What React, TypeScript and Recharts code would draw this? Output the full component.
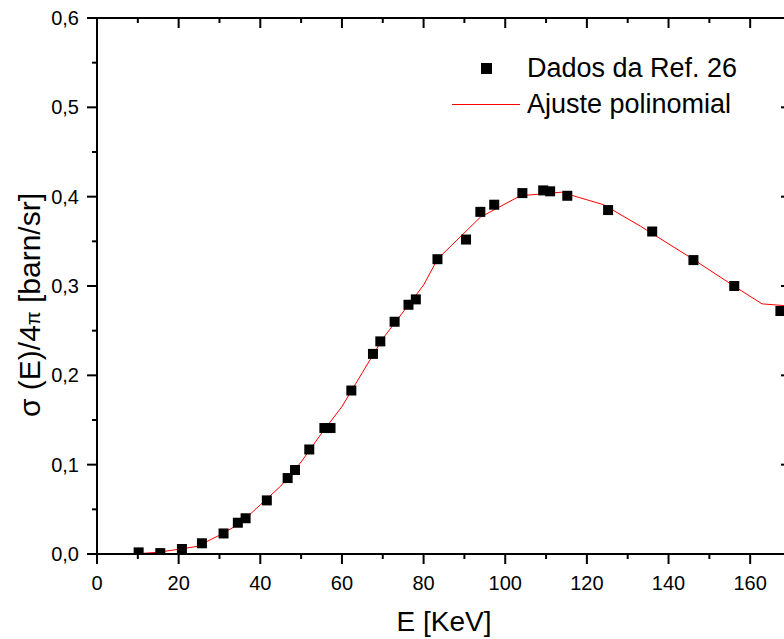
import React from 'react';
import { ComposedChart, Line, Scatter, XAxis, YAxis, Legend, Label } from 'recharts';

// ---- data ----
const energies = [10.2, 15.5, 20.8, 25.7, 31.0, 34.5, 36.4, 41.6, 46.7, 48.5, 52.0, 55.7, 57.2, 62.3, 67.6, 69.4, 72.9, 76.3, 78.1, 83.4, 90.4, 93.9, 97.3, 104.2, 109.3, 111.0, 115.2, 125.2, 136.0, 146.1, 156.1, 167.4];
const crossSections = [0.0018, 0.001, 0.0056, 0.012, 0.023, 0.035, 0.040, 0.060, 0.085, 0.094, 0.117, 0.141, 0.141, 0.183, 0.224, 0.238, 0.260, 0.279, 0.285, 0.330, 0.352, 0.383, 0.391, 0.404, 0.407, 0.406, 0.401, 0.385, 0.361, 0.329, 0.300, 0.272];

const fitEnergies = [8.9, 15, 20.3, 24.5, 30, 35, 40, 45, 50, 55, 60, 65, 70, 75, 80, 83.4, 93.9, 103.7, 113.7, 124.1, 133.1, 146, 156, 162.9, 170];
const fitValues = [0, 0.002, 0.0055, 0.0085, 0.021, 0.034, 0.055, 0.076, 0.103, 0.135, 0.165, 0.203, 0.241, 0.271, 0.301, 0.330, 0.377, 0.401, 0.405, 0.391, 0.367, 0.330, 0.300, 0.280, 0.2775];

const xTicks = [0, 10, 20, 30, 40, 50, 60, 70, 80, 90, 100, 110, 120, 130, 140, 150, 160, 170];
const yTicks = [0, 0.05, 0.1, 0.15, 0.2, 0.25, 0.3, 0.35, 0.4, 0.45, 0.5, 0.55, 0.6];

const SERIES_POINTS = 'Dados da Ref. 26';
const SERIES_FIT = 'Ajuste polinomial';
const X_TITLE = 'E [KeV]';

const pointData = energies.map((x, i) => ({ x, y: crossSections[i] }));
const fitData = fitEnergies.map((x, i) => ({ x, y: fitValues[i] }));

// ---- styling ----
const FONT = '"Liberation Sans", Arial, Helvetica, sans-serif';
const FIT_COLOR = '#ff0000';
const MAJOR = 10;
const MINOR = 5;
const isMajorX = (v: number) => Math.round(v) % 20 === 0;
const isMajorY = (v: number) => Math.round(v * 100) % 10 === 0;
const fmtY = (v: number) => v.toFixed(1).replace('.', ',');

function BottomTick(props: any) {
  const { x, y, payload } = props;
  const v = payload.value;
  const major = isMajorX(v);
  return (
    <g>
      <line x1={x} x2={x} y1={y} y2={y + (major ? MAJOR : MINOR)} stroke="#000" strokeWidth={2} />
      {major && v < 170 && (
        <text x={x} y={y + 29} dy="0.355em" textAnchor="middle" fontSize={20} fontFamily={FONT} fill="#000">
          {String(v)}
        </text>
      )}
    </g>
  );
}

function TopTick(props: any) {
  const { x, y, payload } = props;
  const major = isMajorX(payload.value);
  return <line x1={x} x2={x} y1={y} y2={y + (major ? MAJOR : MINOR)} stroke="#000" strokeWidth={2} />;
}

function LeftTick(props: any) {
  const { x, y, payload } = props;
  const v = payload.value;
  const major = isMajorY(v);
  return (
    <g>
      <line x1={x} x2={x - (major ? MAJOR : MINOR)} y1={y} y2={y} stroke="#000" strokeWidth={2} />
      {major && (
        <text x={x - 18} y={y} dy="0.355em" textAnchor="end" fontSize={20} fontFamily={FONT} fill="#000">
          {fmtY(v)}
        </text>
      )}
    </g>
  );
}

function RightTick(props: any) {
  const { x, y, payload } = props;
  const major = isMajorY(payload.value);
  return <line x1={x} x2={x - (major ? MAJOR : MINOR)} y1={y} y2={y} stroke="#000" strokeWidth={2} />;
}

function YTitle(props: any) {
  const vb = props.viewBox || { x: 0, y: 0, width: 0, height: 0 };
  const cx = vb.x + 21;
  const cy = vb.y + vb.height / 2 + 19;
  return (
    <text
      x={cx}
      y={cy}
      dy="0.36em"
      transform={`rotate(-90 ${cx} ${cy})`}
      textAnchor="middle"
      fontSize={30}
      fontFamily={FONT}
      fill="#000"
    >
      σ (E)/4<tspan fontSize={20}>π</tspan> [barn/sr]
    </text>
  );
}

function XTitle(props: any) {
  const vb = props.viewBox || { x: 0, y: 0, width: 0, height: 0 };
  return (
    <text x={vb.x + vb.width / 2} y={vb.y + 77} textAnchor="middle" fontSize={28} fontFamily={FONT} fill="#000">
      {X_TITLE}
    </text>
  );
}

function LegendBox() {
  return (
    <div style={{ position: 'relative', width: 800, height: 0, fontFamily: FONT, color: '#000' }}>
      <div style={{ position: 'absolute', left: 472.5, top: 55, width: 11, height: 11, background: '#000' }} />
      <div style={{ position: 'absolute', left: 519, top: 47.1, fontSize: 27, lineHeight: '27px', whiteSpace: 'nowrap' }}>
        {SERIES_POINTS}
      </div>
      <div style={{ position: 'absolute', left: 443.7, top: 95.5, width: 68.3, height: 1, background: FIT_COLOR }} />
      <div style={{ position: 'absolute', left: 519, top: 82.5, fontSize: 27, lineHeight: '27px', whiteSpace: 'nowrap' }}>
        {SERIES_FIT}
      </div>
    </div>
  );
}

const SquareShape = (props: any) => {
  const { cx, cy } = props;
  if (cx == null || cy == null) return null;
  return <rect x={cx - 5} y={cy - 5} width={10} height={10} fill="#000" />;
};

export default function App() {
  return (
    <div style={{ width: 768, height: 631 }}>
      <style>{'html { overflow: hidden; }'}</style>
      <div style={{ position: 'fixed', left: 8, top: 8, width: 776, height: 631, overflow: 'hidden', background: '#fff' }}>
        <ComposedChart width={800} height={631} margin={{ top: 0, right: 0, bottom: 0, left: 0 }}>
          <XAxis
            dataKey="x"
            type="number"
            domain={[0, 170]}
            ticks={xTicks}
            interval={0}
            allowDataOverflow
            height={85}
            tickSize={0}
            tickMargin={0}
            tickLine={false}
            tick={<BottomTick />}
            axisLine={{ stroke: '#000', strokeWidth: 2 }}
          >
            <Label content={<XTitle />} />
          </XAxis>
          <XAxis
            xAxisId="top"
            orientation="top"
            dataKey="x"
            type="number"
            domain={[0, 170]}
            ticks={xTicks}
            interval={0}
            allowDataOverflow
            height={10}
            tickSize={0}
            tickMargin={0}
            tickLine={false}
            tick={<TopTick />}
            axisLine={{ stroke: '#000', strokeWidth: 2 }}
          />
          <YAxis
            type="number"
            domain={[0, 0.6]}
            ticks={yTicks}
            interval={0}
            allowDataOverflow
            width={89}
            tickSize={0}
            tickMargin={0}
            tickLine={false}
            tick={<LeftTick />}
            axisLine={{ stroke: '#000', strokeWidth: 2 }}
          >
            <Label content={<YTitle />} />
          </YAxis>
          <YAxis
            yAxisId="right"
            orientation="right"
            type="number"
            domain={[0, 0.6]}
            ticks={yTicks}
            interval={0}
            allowDataOverflow
            width={17}
            tickSize={0}
            tickMargin={0}
            tickLine={false}
            tick={<RightTick />}
            axisLine={{ stroke: '#000', strokeWidth: 2 }}
          />
          <Legend
            layout="horizontal"
            verticalAlign="middle"
            align="center"
            wrapperStyle={{ left: 0, top: 0, width: 800, height: 0 }}
            content={<LegendBox />}
          />
          <Scatter name={SERIES_POINTS} data={pointData} dataKey="y" fill="#000" shape={SquareShape} isAnimationActive={false} />
          <Line
            name={SERIES_FIT}
            data={fitData}
            dataKey="y"
            type="linear"
            stroke={FIT_COLOR}
            strokeWidth={1}
            dot={false}
            activeDot={false}
            isAnimationActive={false}
          />
        </ComposedChart>
      </div>
    </div>
  );
}
